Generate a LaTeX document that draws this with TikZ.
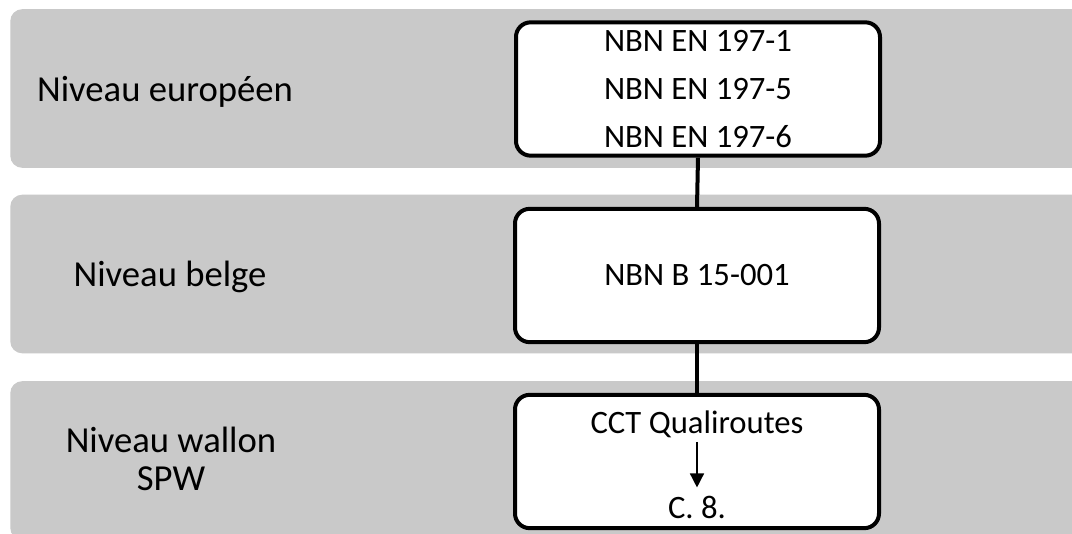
\documentclass[tikz,border=0pt]{standalone}
\usepackage{fontspec}
\setmainfont{Carlito}
\usetikzlibrary{arrows.meta, positioning}
\definecolor{bandgray}{RGB}{201,201,201}
\tikzstyle{band} = [rectangle, rounded corners=9pt, fill=bandgray, minimum width=830pt, minimum height=119pt, inner sep=0pt, anchor=west]
\tikzstyle{level} = [rectangle, align=center, font=\fontsize{27.5}{28.5}\selectfont]
\tikzstyle{rect} = [rectangle, rounded corners=11pt, minimum width=273pt, minimum height=100pt, align=center, draw=black, line width=3pt, fill=white, font=\fontsize{24.5}{36}\selectfont]
\tikzstyle{blank} = [rectangle, inner sep=2pt, font=\fontsize{24.5}{36}\selectfont]
\tikzstyle{link} = [line width=3pt]
\tikzstyle{arrow} = [-{Triangle[width=10.5pt,length=10.5pt]}, line width=1.1pt, shorten <=1pt, shorten >=4pt]

\begin{document}
\begin{tikzpicture}[x=0.75pt, y=-0.75pt]
    \clip (0,0) rectangle (1072,534);
    \fill[white] (0,0) rectangle (1072,534);
    % bandes
    \node (b1) [band] at (10,88.5) {};
    \node (b2) [band] at (10,274) {};
    \node (b3) [band] at (10,460.5) {};
    \node (l1) [level] at (165,92) {Niveau européen};
    \node (l2) [level] at (170,277) {Niveau belge};
    \node (l3) [level] at (171,459) {Niveau wallon\\SPW};
    % normes
    \node (c1) [rect] at (698,89) {NBN EN 197-1\\NBN EN 197-5\\NBN EN 197-6};
    \node (c2) [rect] at (697,275.5) {NBN B 15-001};
    \node (c3) [rect] at (697,461.5) {};
    \node (t1) [blank] at (697,424) {CCT Qualiroutes};
    \node (t2) [blank] at (697,507) {C. 8.};
    \draw [link] (c1.south) -- (c2.north);
    \draw [link] (c2.south) -- (c3.north);
    \draw [arrow] (t1.south) -- (t2.north);
\end{tikzpicture}
\end{document}
